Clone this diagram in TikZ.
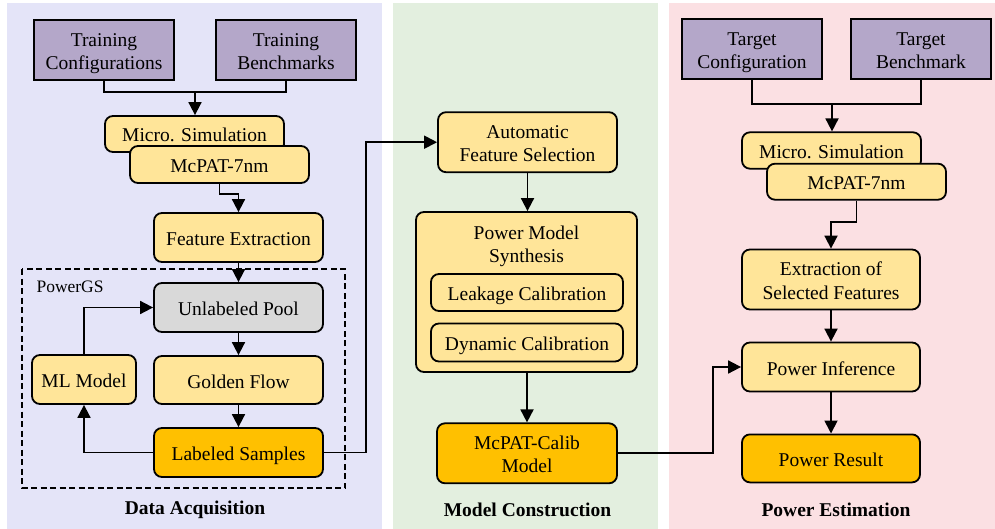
\documentclass[tikz,border=0pt]{standalone}
\usepackage{fontspec}
\setmainfont{Liberation Serif}
\usetikzlibrary{arrows.meta,calc}
\definecolor{bgblue}{HTML}{E4E4F8}
\definecolor{bggreen}{HTML}{E3EFDF}
\definecolor{bgpink}{HTML}{FBE0E3}
\definecolor{purp}{HTML}{B4A7C9}
\definecolor{yel}{HTML}{FFE599}
\definecolor{org}{HTML}{FFC000}
\definecolor{gry}{HTML}{D9D9D9}
\newcommand\ftop{\rule{0pt}{20.5pt}}
\newcommand\fbot{\rule[-4.5pt]{0pt}{0pt}}
\tikzset{
  every node/.style={font=\fontsize{19.5}{23.3}\selectfont},
  inbox/.style={draw=black, line width=1.8pt, fill=purp, align=center, inner sep=0pt},
  ybox/.style={draw=black, line width=1.8pt, fill=yel, rounded corners=8pt, align=center, inner sep=0pt},
  obox/.style={ybox, fill=org},
  gbox/.style={ybox, fill=gry},
  arr/.style={line width=1.8pt, -{Triangle[length=13pt,width=13pt]}},
  ln/.style={line width=1.8pt},
  lbl/.style={font=\fontsize{19.5}{23.3}\selectfont\bfseries},
}
\begin{document}
\begin{tikzpicture}[x=1pt,y=-1pt]
\useasboundingbox (0,0) rectangle (995,529);
% panels
\fill[bgblue] (7,3) rectangle (382,529);
\fill[bggreen] (393,3) rectangle (658,529);
\fill[bgpink] (669,3) rectangle (995,529);

% Data acquisition
\node[inbox, minimum width=140pt, minimum height=60pt] (tc) at (104,50) {\ftop Training\\Configurations\fbot};
\node[inbox, minimum width=140pt, minimum height=60pt] (tb) at (286,50) {\ftop Training\\Benchmarks\fbot};
\node[ybox, minimum width=179pt, minimum height=36pt] (ms1) at (194.5,134) {\ftop Micro. Simulation\fbot};
\node[ybox, minimum width=179pt, minimum height=37pt] (mc1) at (219.5,164.5) {\ftop McPAT-7nm\fbot};
\node[ybox, minimum width=169pt, minimum height=49pt] (fe) at (238.5,237.5) {\ftop Feature Extraction\fbot};
\draw[line width=1.4pt, dash pattern=on 6pt off 3.5pt] (22,269) rectangle (345,488);
\node[anchor=west, font=\fontsize{17.5}{21}\selectfont] (pgs) at (33,287) {PowerGS};
\node[gbox, minimum width=169pt, minimum height=49pt] (up) at (238.5,307.5) {\ftop Unlabeled Pool\fbot};
\node[ybox, minimum width=169pt, minimum height=48pt] (gf) at (238.5,380) {\ftop Golden Flow\fbot};
\node[obox, minimum width=169pt, minimum height=49pt] (ls) at (238.5,452.5) {\ftop Labeled Samples\fbot};
\node[ybox, minimum width=104pt, minimum height=49pt] (ml) at (84,379.5) {\ftop ML Model\fbot};
\node[lbl] (la) at (195,510) {Data Acquisition};

% Model construction
\node[ybox, minimum width=179pt, minimum height=60pt] (afs) at (527.5,142.2) {\ftop Automatic\\Feature Selection\fbot};
\node[ybox, minimum width=221pt, minimum height=160pt] (pms) at (526.5,292) {};
\node (pmst) at (526.5,243) [align=center] {\ftop Power Model\\Synthesis\fbot};
\node[ybox, minimum width=192pt, minimum height=37pt] (lc) at (527,292.5) {\ftop Leakage Calibration\fbot};
\node[ybox, minimum width=192pt, minimum height=38pt] (dc) at (527,342.5) {\ftop Dynamic Calibration\fbot};
\node[obox, minimum width=180pt, minimum height=60pt] (mcm) at (527,453.3) {\ftop McPAT-Calib\\Model\fbot};
\node[lbl] (lb) at (527.5,510) {Model Construction};

% Power estimation
\node[inbox, minimum width=140pt, minimum height=60pt] (tcf) at (752,49.3) {\ftop Target\\Configuration\fbot};
\node[inbox, minimum width=140pt, minimum height=60pt] (tbm) at (921,49.3) {\ftop Target\\Benchmark\fbot};
\node[ybox, minimum width=179pt, minimum height=36.4pt] (ms2) at (831.5,150.5) {\ftop Micro. Simulation\fbot};
\node[ybox, minimum width=179pt, minimum height=36pt] (mc2) at (856.5,181.7) {\ftop McPAT-7nm\fbot};
\node[ybox, minimum width=178pt, minimum height=60pt] (esf) at (831,279.5) {\ftop Extraction of\\Selected Features\fbot};
\node[ybox, minimum width=178pt, minimum height=49pt] (pi) at (831,367) {\ftop Power Inference\fbot};
\node[obox, minimum width=178pt, minimum height=48pt] (pr) at (831,458.4) {\ftop Power Result\fbot};
\node[lbl] (lc2) at (836,510) {Power Estimation};

% connectors, data acquisition
\coordinate (j1) at (195,92);
\draw[ln] (tc.south) |- (j1) -| (tb.south);
\draw[arr] (j1) -- (j1 |- ms1.north);
\draw[arr] (mc1.south) -- ++(0,10) -| (fe.north);
\draw[arr] (fe) -- (up);
\draw[arr] (up) -- (gf);
\draw[arr] (gf) -- (ls);
\draw[arr] (ls.west) -| (ml.south);
\draw[arr] (ml.north) |- (up.west);
\coordinate (r1) at (366,0);
\draw[arr] (ls.east) -| (r1 |- afs.west) -- (afs.west);

% model construction
\draw[arr] (afs) -- (afs |- pms.north);
\draw[arr] (pms.south -| mcm) -- (mcm);
\coordinate (r2) at (713,0);
\draw[arr] (mcm.east) -| (r2 |- pi.west) -- (pi.west);

% power estimation
\coordinate (j2) at (832,104);
\draw[ln] (tcf.south) |- (j2) -| (tbm.south);
\draw[arr] (j2) -- (j2 |- ms2.north);
\draw[arr] (mc2.south) -- ++(0,21.3) -| (esf.north);
\draw[arr] (esf) -- (pi);
\draw[arr] (pi) -- (pr);
\end{tikzpicture}
\end{document}
